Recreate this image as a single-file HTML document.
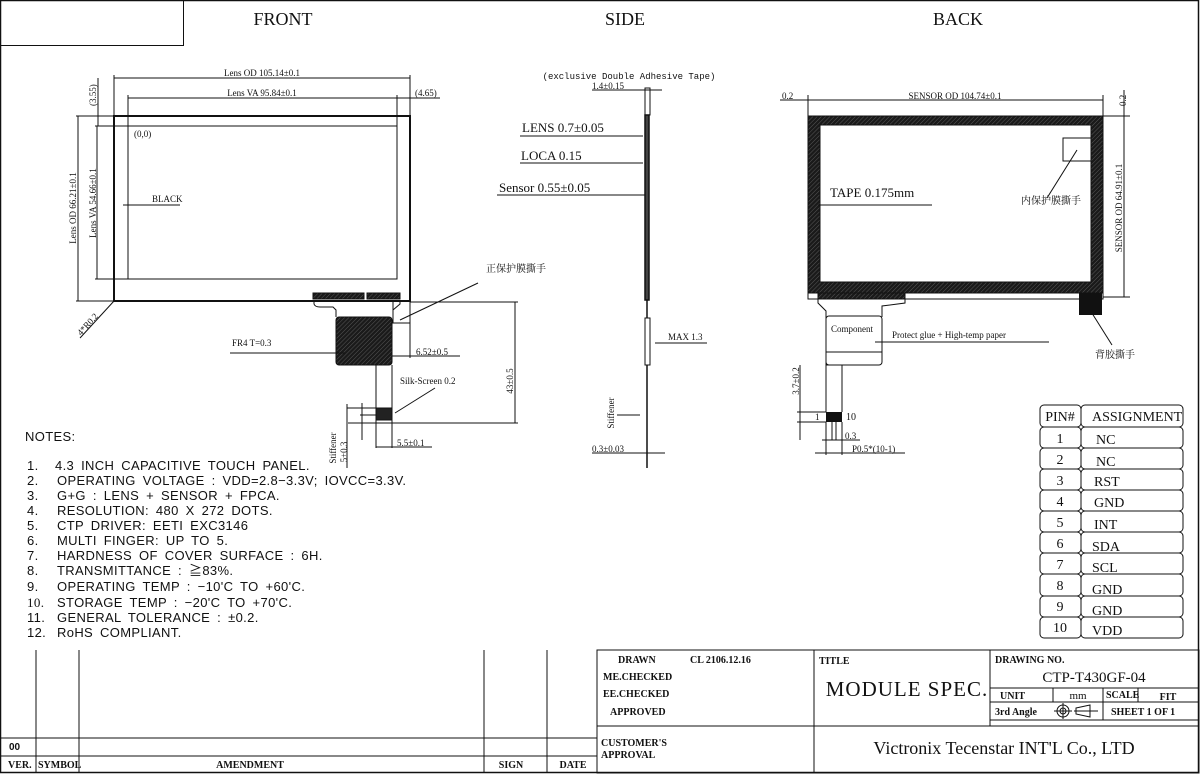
<!DOCTYPE html>
<html><head><meta charset="utf-8"><style>
html,body{margin:0;padding:0;background:#fff;}
svg{display:block;}
.s{font-family:"Liberation Serif","Noto Serif CJK SC",serif;fill:#111;}
.m{font-family:"Liberation Mono","Noto Sans CJK SC",monospace;fill:#111;}
.n{font-family:"Liberation Sans","Noto Sans CJK SC",sans-serif;fill:#111;}
.b{font-family:"Liberation Serif",serif;font-weight:bold;fill:#111;}
</style></head><body>
<svg width="1200" height="774" viewBox="0 0 1200 774" xmlns="http://www.w3.org/2000/svg">
<defs>
<pattern id="h" width="3" height="3" patternUnits="userSpaceOnUse" patternTransform="rotate(45)">
<rect width="3" height="3" fill="#1a1a1a"/><line x1="0" y1="0" x2="0" y2="3" stroke="#666" stroke-width="0.8"/></pattern>
</defs>
<g fill="none" stroke="#111" stroke-width="1">
<rect x="0.5" y="0.5" width="1198" height="772" stroke-width="1.5"/>
<rect x="0.5" y="0.5" width="183" height="45"/>
</g>
<text class="s" x="283" y="25" font-size="18" text-anchor="middle">FRONT</text>
<text class="s" x="625" y="25" font-size="18" text-anchor="middle">SIDE</text>
<text class="s" x="958" y="25" font-size="18" text-anchor="middle">BACK</text>

<!-- FRONT -->
<g fill="none" stroke="#111" stroke-width="1">
<rect x="114" y="116" width="296" height="185" stroke-width="2"/>
<rect x="128" y="126" width="269" height="153"/>
<line x1="114" y1="75" x2="114" y2="116"/><line x1="410" y1="75" x2="410" y2="116"/>
<line x1="114" y1="78" x2="410" y2="78"/>
<line x1="128" y1="95" x2="128" y2="126"/><line x1="397" y1="95" x2="397" y2="126"/>
<line x1="128" y1="98" x2="397" y2="98"/>
<line x1="397" y1="98" x2="440" y2="98"/>
<line x1="76" y1="116" x2="114" y2="116"/><line x1="95" y1="126" x2="128" y2="126"/>
<line x1="76" y1="301" x2="114" y2="301"/><line x1="95" y1="279" x2="128" y2="279"/>
<line x1="78" y1="116" x2="78" y2="301"/><line x1="97" y1="126" x2="97" y2="279"/>
<line x1="98" y1="78" x2="98" y2="126"/>
<line x1="123" y1="205" x2="180" y2="205"/>
<line x1="114" y1="301" x2="80" y2="338"/>
<path d="M314 301 L314 304 Q315 307 320 307 L333 307 L336 310 L336 317"/>
<path d="M400 301 L400 304 L393 310 L393 317"/>
<rect x="393" y="301" width="17" height="22"/>
<rect x="336" y="317" width="56" height="48" rx="3" fill="url(#h)"/>
<line x1="376" y1="365" x2="376" y2="420"/><line x1="392" y1="365" x2="392" y2="420"/>
<rect x="376" y="408" width="16" height="12" fill="#222"/>
<line x1="230" y1="353" x2="345" y2="353"/>
<line x1="392" y1="356" x2="460" y2="356"/><line x1="410" y1="323" x2="410" y2="358"/>
<line x1="410" y1="302" x2="518" y2="302"/><line x1="348" y1="423" x2="518" y2="423"/>
<line x1="515" y1="302" x2="515" y2="423"/>
<line x1="395" y1="413" x2="435" y2="388"/>
<line x1="347" y1="408" x2="376" y2="408"/><line x1="360" y1="415" x2="376" y2="415"/>
<line x1="347" y1="404" x2="347" y2="468"/><line x1="362" y1="403" x2="362" y2="440"/>
<line x1="376" y1="420" x2="376" y2="448"/><line x1="392" y1="420" x2="392" y2="448"/>
<line x1="376" y1="447" x2="432" y2="447"/>
<line x1="400" y1="320" x2="478" y2="283"/>
</g>
<rect x="313" y="293" width="51" height="6" fill="url(#h)" stroke="#111"/>
<rect x="367" y="293" width="33" height="6" fill="url(#h)" stroke="#111"/>
<text class="s" x="262" y="76" font-size="9" text-anchor="middle">Lens OD 105.14±0.1</text>
<text class="s" x="262" y="96" font-size="9" text-anchor="middle">Lens VA 95.84±0.1</text>
<text class="s" x="415" y="96" font-size="9">(4.65)</text>
<text class="s" font-size="9" transform="translate(96,106) rotate(-90)">(3.55)</text>
<text class="s" font-size="9" text-anchor="middle" transform="translate(76,208) rotate(-90)">Lens OD 66.21±0.1</text>
<text class="s" font-size="9" text-anchor="middle" transform="translate(96,203) rotate(-90)">Lens VA 54.66±0.1</text>
<text class="s" x="134" y="137" font-size="9">(0,0)</text>
<text class="s" x="152" y="202" font-size="9">BLACK</text>
<text class="s" font-size="9" transform="translate(81,336) rotate(-48)">4*R0.2</text>
<text class="s" x="232" y="346" font-size="9">FR4 T=0.3</text>
<text class="s" x="416" y="355" font-size="9">6.52±0.5</text>
<text class="s" x="400" y="384" font-size="9">Silk-Screen 0.2</text>
<text class="s" x="397" y="446" font-size="9">5.5±0.1</text>
<text class="s" font-size="9" text-anchor="middle" transform="translate(513,381) rotate(-90)">43±0.5</text>
<text class="s" font-size="9" text-anchor="middle" transform="translate(336,448) rotate(-90)">Stiffener</text>
<text class="s" font-size="9" text-anchor="middle" transform="translate(347,452) rotate(-90)">5±0.3</text>
<text class="s" x="486" y="272" font-size="10">正保护膜撕手</text>

<!-- SIDE -->
<g fill="none" stroke="#111" stroke-width="1">
<rect x="645" y="88" width="5" height="27"/>
<rect x="645" y="115" width="4" height="185" fill="#444" stroke-width="1.5"/>
<line x1="647" y1="300" x2="647" y2="468" stroke-width="1.5"/>
<rect x="645" y="318" width="5" height="47" fill="#fff"/>
<line x1="592" y1="90" x2="662" y2="90"/>
<line x1="520" y1="136" x2="643" y2="136"/>
<line x1="520" y1="163" x2="643" y2="163"/>
<line x1="497" y1="195" x2="645" y2="195"/>
<line x1="655" y1="343" x2="707" y2="343"/>
<line x1="617" y1="415" x2="640" y2="415"/>
<line x1="592" y1="453" x2="665" y2="453"/>
</g>
<text class="m" x="629" y="79" font-size="9" text-anchor="middle">(exclusive Double Adhesive Tape)</text>
<text class="s" x="592" y="89" font-size="9">1.4±0.15</text>
<text class="s" x="522" y="132" font-size="13">LENS 0.7±0.05</text>
<text class="s" x="521" y="160" font-size="13">LOCA 0.15</text>
<text class="s" x="499" y="192" font-size="13">Sensor 0.55±0.05</text>
<text class="s" x="668" y="340" font-size="9">MAX 1.3</text>
<text class="s" font-size="9" text-anchor="middle" transform="translate(614,413) rotate(-90)">Stiffener</text>
<text class="s" x="592" y="452" font-size="9">0.3±0.03</text>

<!-- BACK -->
<rect x="808" y="116" width="295" height="177" fill="url(#h)" stroke="#111"/>
<rect x="820" y="125" width="271" height="157" fill="#fff" stroke="#111"/>
<g fill="none" stroke="#111" stroke-width="1">
<rect x="1063" y="138" width="28" height="23"/>
<line x1="1077" y1="150" x2="1047" y2="198"/>
<line x1="818" y1="205" x2="932" y2="205"/>
<line x1="808" y1="95" x2="808" y2="116"/><line x1="1103" y1="95" x2="1103" y2="116"/>
<line x1="780" y1="100" x2="1103" y2="100"/>
<line x1="1103" y1="116" x2="1130" y2="116"/><line x1="1103" y1="297" x2="1130" y2="297"/>
<line x1="1124" y1="90" x2="1124" y2="297"/>
<rect x="808" y="293" width="295" height="6" fill="#fff"/>
<path d="M818 299 L818 303 L826 311 L826 365 L842 365 L842 412"/>
<path d="M905 299 L905 303 L882 306 L882 317"/>
<rect x="826" y="316" width="56" height="49" rx="3" fill="#fff"/>
<line x1="826" y1="352" x2="882" y2="352"/>
<line x1="826" y1="365" x2="826" y2="412"/>
<line x1="875" y1="342" x2="1049" y2="342"/>
<line x1="1090" y1="310" x2="1112" y2="345"/>
<line x1="800" y1="365" x2="800" y2="440"/>
<line x1="797" y1="412" x2="826" y2="412"/><line x1="797" y1="422" x2="826" y2="422"/>
<line x1="832" y1="422" x2="832" y2="440"/><line x1="836" y1="422" x2="836" y2="440"/>
<line x1="822" y1="440" x2="860" y2="440"/>
<line x1="826" y1="422" x2="826" y2="455"/><line x1="842" y1="422" x2="842" y2="455"/>
<line x1="815" y1="453" x2="905" y2="453"/>
</g>
<rect x="818" y="293" width="87" height="6" fill="url(#h)" stroke="#111"/>
<rect x="1079" y="293" width="23" height="22" fill="#111"/>
<rect x="826" y="412" width="16" height="10" fill="#111"/>
<text class="s" x="955" y="99" font-size="9" text-anchor="middle">SENSOR OD 104.74±0.1</text>
<text class="s" x="782" y="99" font-size="9">0.2</text>
<text class="s" font-size="9" transform="translate(1126,106) rotate(-90)">0.2</text>
<text class="s" font-size="9" text-anchor="middle" transform="translate(1122,208) rotate(-90)">SENSOR OD 64.91±0.1</text>
<text class="s" x="830" y="197" font-size="13">TAPE 0.175mm</text>
<text class="s" x="1021" y="204" font-size="10">内保护膜撕手</text>
<text class="s" x="831" y="332" font-size="9">Component</text>
<text class="s" x="892" y="338" font-size="9">Protect glue + High-temp paper</text>
<text class="s" x="1095" y="358" font-size="10">背胶撕手</text>
<text class="s" font-size="9" text-anchor="middle" transform="translate(799,381) rotate(-90)">3.7±0.2</text>
<text class="s" x="846" y="420" font-size="10">10</text>
<text class="s" x="815" y="420" font-size="9">1</text>
<text class="s" x="845" y="439" font-size="9">0.3</text>
<text class="s" x="852" y="452" font-size="9">P0.5*(10-1)</text>

<!-- PIN TABLE -->
<g fill="none" stroke="#111" stroke-width="1">
<rect x="1040" y="405" width="41" height="22" rx="4"/><rect x="1081" y="405" width="102" height="22" rx="4"/>
<rect x="1040" y="427" width="41" height="21" rx="4"/><rect x="1081" y="427" width="102" height="21" rx="4"/>
<rect x="1040" y="448" width="41" height="21" rx="4"/><rect x="1081" y="448" width="102" height="21" rx="4"/>
<rect x="1040" y="469" width="41" height="21" rx="4"/><rect x="1081" y="469" width="102" height="21" rx="4"/>
<rect x="1040" y="490" width="41" height="21" rx="4"/><rect x="1081" y="490" width="102" height="21" rx="4"/>
<rect x="1040" y="511" width="41" height="21" rx="4"/><rect x="1081" y="511" width="102" height="21" rx="4"/>
<rect x="1040" y="532" width="41" height="21" rx="4"/><rect x="1081" y="532" width="102" height="21" rx="4"/>
<rect x="1040" y="553" width="41" height="21" rx="4"/><rect x="1081" y="553" width="102" height="21" rx="4"/>
<rect x="1040" y="574" width="41" height="22" rx="4"/><rect x="1081" y="574" width="102" height="22" rx="4"/>
<rect x="1040" y="596" width="41" height="21" rx="4"/><rect x="1081" y="596" width="102" height="21" rx="4"/>
<rect x="1040" y="617" width="41" height="21" rx="4"/><rect x="1081" y="617" width="102" height="21" rx="4"/>
</g>
<g class="s" font-size="14">
<text x="1060" y="421" text-anchor="middle">PIN#</text><text x="1092" y="421">ASSIGNMENT</text>
<text x="1060" y="443" text-anchor="middle">1</text><text x="1096" y="444">NC</text>
<text x="1060" y="464" text-anchor="middle">2</text><text x="1096" y="466">NC</text>
<text x="1060" y="485" text-anchor="middle">3</text><text x="1094" y="486">RST</text>
<text x="1060" y="506" text-anchor="middle">4</text><text x="1094" y="507">GND</text>
<text x="1060" y="527" text-anchor="middle">5</text><text x="1094" y="529">INT</text>
<text x="1060" y="548" text-anchor="middle">6</text><text x="1092" y="551">SDA</text>
<text x="1060" y="569" text-anchor="middle">7</text><text x="1092" y="572">SCL</text>
<text x="1060" y="590" text-anchor="middle">8</text><text x="1092" y="594">GND</text>
<text x="1060" y="611" text-anchor="middle">9</text><text x="1092" y="615">GND</text>
<text x="1060" y="632" text-anchor="middle">10</text><text x="1092" y="635">VDD</text>
</g>

<!-- NOTES -->
<g class="n" font-size="13" word-spacing="3" letter-spacing="0.35">
<text x="25" y="441">NOTES:</text>
<text x="27" y="470">1.</text><text x="55" y="470">4.3 INCH CAPACITIVE TOUCH PANEL.</text>
<text x="27" y="485">2.</text><text x="57" y="485">OPERATING VOLTAGE : VDD=2.8−3.3V; IOVCC=3.3V.</text>
<text x="27" y="500">3.</text><text x="57" y="500">G+G : LENS + SENSOR + FPCA.</text>
<text x="27" y="515">4.</text><text x="57" y="515">RESOLUTION: 480 X 272 DOTS.</text>
<text x="27" y="530">5.</text><text x="57" y="530">CTP DRIVER: EETI EXC3146</text>
<text x="27" y="545">6.</text><text x="57" y="545">MULTI FINGER: UP TO 5.</text>
<text x="27" y="560">7.</text><text x="57" y="560">HARDNESS OF COVER SURFACE : 6H.</text>
<text x="27" y="575">8.</text><text x="57" y="575">TRANSMITTANCE : ≧83%.</text>
<text x="27" y="591">9.</text><text x="57" y="591">OPERATING TEMP : −10'C TO +60'C.</text>
<text x="27" y="607" class="s">10.</text><text x="57" y="607">STORAGE TEMP : −20'C TO +70'C.</text>
<text x="27" y="622">11.</text><text x="57" y="622">GENERAL TOLERANCE : ±0.2.</text>
<text x="27" y="637">12.</text><text x="57" y="637">RoHS COMPLIANT.</text>
</g>

<!-- BOTTOM TABLES -->
<g fill="none" stroke="#111" stroke-width="1">
<line x1="0" y1="738" x2="597" y2="738"/><line x1="0" y1="756" x2="597" y2="756"/>
<line x1="36" y1="650" x2="36" y2="773"/><line x1="79" y1="650" x2="79" y2="773"/>
<line x1="484" y1="650" x2="484" y2="773"/><line x1="547" y1="650" x2="547" y2="773"/>
<rect x="597" y="650" width="602" height="123"/>
<line x1="597" y1="726" x2="1199" y2="726"/>
<line x1="814" y1="650" x2="814" y2="773"/>
<line x1="990" y1="650" x2="990" y2="726"/>
<line x1="990" y1="688" x2="1199" y2="688"/><line x1="990" y1="702" x2="1199" y2="702"/>
<line x1="1053" y1="688" x2="1053" y2="702"/><line x1="1103" y1="688" x2="1103" y2="720"/>
<line x1="1138" y1="688" x2="1138" y2="702"/><line x1="990" y1="720" x2="1199" y2="720"/>
</g>
<g class="b" font-size="10">
<text x="9" y="750" font-family="Liberation Sans" font-weight="bold">00</text>
<text x="8" y="768">VER.</text><text x="38" y="768">SYMBOL</text>
<text x="250" y="768" text-anchor="middle">AMENDMENT</text>
<text x="511" y="768" text-anchor="middle">SIGN</text><text x="573" y="768" text-anchor="middle">DATE</text>
<text x="618" y="663">DRAWN</text><text x="690" y="663">CL 2106.12.16</text>
<text x="603" y="680">ME.CHECKED</text>
<text x="603" y="697">EE.CHECKED</text>
<text x="610" y="715">APPROVED</text>
<text x="601" y="746">CUSTOMER'S</text><text x="601" y="758">APPROVAL</text>
<text x="819" y="664">TITLE</text>
<text x="995" y="663">DRAWING NO.</text>
<text x="1000" y="699">UNIT</text><text x="1106" y="698">SCALE</text><text x="1168" y="700" text-anchor="middle">FIT</text>
<text x="995" y="715">3rd Angle</text><text x="1111" y="715">SHEET 1 OF 1</text>
</g>
<text class="s" x="1078" y="699" font-size="11" text-anchor="middle">mm</text>
<g fill="none" stroke="#111" stroke-width="1">
<circle cx="1063" cy="711" r="6"/><circle cx="1063" cy="711" r="3"/>
<line x1="1054" y1="711" x2="1072" y2="711"/><line x1="1063" y1="703" x2="1063" y2="719"/>
<path d="M1076 708 L1090 705 L1090 717 L1076 714 Z"/><line x1="1074" y1="711" x2="1098" y2="711"/>
</g>
<text class="s" x="907" y="696" font-size="21" text-anchor="middle" letter-spacing="1">MODULE  SPEC.</text>
<text class="s" x="1094" y="682" font-size="15" text-anchor="middle">CTP-T430GF-04</text>
<text class="s" x="1004" y="754" font-size="18" text-anchor="middle">Victronix Tecenstar INT'L Co., LTD</text>
</svg>
</body></html>
